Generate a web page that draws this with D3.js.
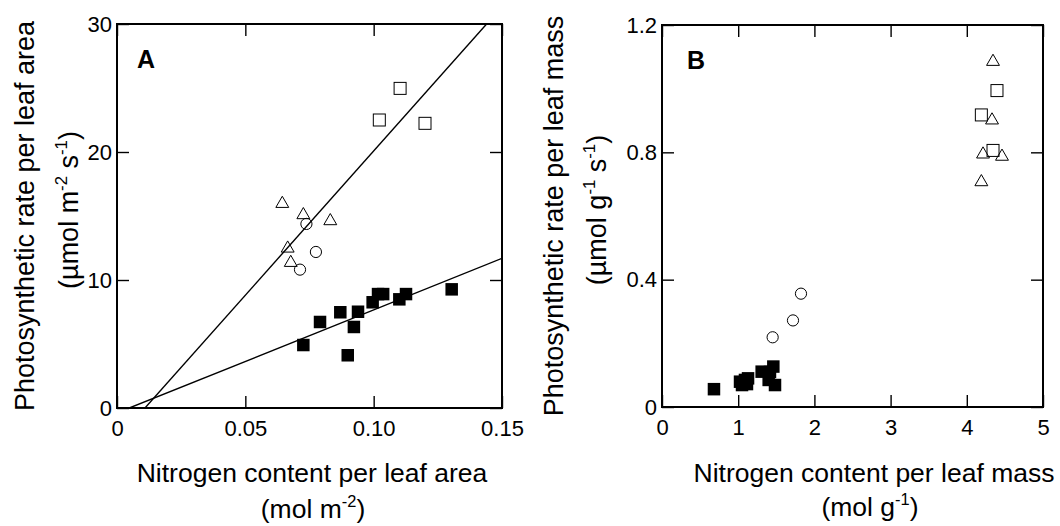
<!DOCTYPE html>
<html>
<head>
<meta charset="utf-8">
<script src="https://cdn.jsdelivr.net/npm/d3@7"></script>
<style>
  body { margin: 0; background: #fff; }
  svg { display: block; font-family: "Liberation Sans", Arial, Helvetica, sans-serif; }
  .tick text { font-size: 22px; fill: #000; }
  .tick line { stroke: #000; stroke-width: 1.4px; }
</style>
</head>
<body>
<svg id="chart" width="1060" height="526"></svg>
<script>
// panel A: area based values (x = mol m-2, y = umol m-2 s-1)
var aOpenSquares = [[0.1022, 22.5], [0.1103, 24.97], [0.1200, 22.24]];
var aTriangles = [[0.0644, 16.04], [0.0726, 15.16], [0.0831, 14.69], [0.0665, 12.55], [0.0677, 11.43]];
var aCircles = [[0.0738, 14.38], [0.0775, 12.19], [0.0713, 10.81]];
var aFilled = [
  [0.0726, 4.92], [0.0791, 6.72], [0.0870, 7.48], [0.0939, 7.52], [0.0923, 6.33], [0.0899, 4.12],
  [0.0996, 8.26], [0.1017, 8.9], [0.1037, 8.9], [0.1100, 8.49], [0.1126, 8.9], [0.1304, 9.27]
];
// fitted lines, two end points each
var aUpperFit = [[0.0109, 0], [0.1440, 30]];
var aLowerFit = [[0.0048, 0], [0.15, 11.69]];

// panel B: mass based values (x = mol g-1, y = umol g-1 s-1)
var bOpenSquares = [[4.396, 0.994], [4.191, 0.9175], [4.344, 0.806]];
var bTriangles = [[4.344, 1.088], [4.331, 0.904], [4.213, 0.797], [4.462, 0.790], [4.191, 0.710]];
var bCircles = [[1.824, 0.356], [1.719, 0.272], [1.452, 0.219]];
var bFilled = [
  [0.682, 0.056], [1.024, 0.0795], [1.089, 0.085], [1.129, 0.090], [1.05, 0.069], [1.115, 0.072],
  [1.308, 0.111], [1.417, 0.110], [1.461, 0.127], [1.483, 0.069], [1.40, 0.085]
];

var aXTicks = [0, 0.05, 0.10, 0.15];
var aXLabels = ['0', '0.05', '0.10', '0.15'];
var aYTicks = [0, 10, 20, 30];
var bXTicks = [0, 1, 2, 3, 4, 5];
var bYTicks = [0, 0.4, 0.8, 1.2];
var bYLabels = ['0', '0.4', '0.8', '1.2'];

var svg = d3.select('#chart');

var drawPanel = function(opt) {
  var x = d3.scaleLinear().domain(opt.xDomain).range([opt.left, opt.right]);
  var y = d3.scaleLinear().domain(opt.yDomain).range([opt.bottom, opt.top]);
  var g = svg.append('g');

  var fmtX = function(d, i) { return opt.xLabels ? opt.xLabels[i] : String(d); };
  var fmtY = function(d, i) { return opt.yLabels ? opt.yLabels[i] : String(d); };

  // axes with inward ticks, mirrored on top / right
  g.append('g').attr('transform', 'translate(0,' + opt.bottom + ')')
    .call(d3.axisBottom(x).tickValues(opt.xTicks).tickFormat(fmtX).tickSizeInner(-12).tickSizeOuter(0).tickPadding(12));
  g.append('g').attr('transform', 'translate(0,' + opt.top + ')')
    .call(d3.axisTop(x).tickValues(opt.xTicks).tickFormat('').tickSizeInner(-12).tickSizeOuter(0));
  g.append('g').attr('transform', 'translate(' + opt.left + ',0)')
    .call(d3.axisLeft(y).tickValues(opt.yTicks).tickFormat(fmtY).tickSizeInner(-12).tickSizeOuter(0).tickPadding(5));
  g.append('g').attr('transform', 'translate(' + opt.right + ',0)')
    .call(d3.axisRight(y).tickValues(opt.yTicks).tickFormat('').tickSizeInner(-12).tickSizeOuter(0));
  g.selectAll('.domain').remove();

  g.append('rect')
    .attr('x', opt.left).attr('y', opt.top)
    .attr('width', opt.right - opt.left).attr('height', opt.bottom - opt.top)
    .attr('fill', 'none').attr('stroke', '#000').attr('stroke-width', 2);

  // clip for fit lines
  var clipId = 'clip' + opt.name;
  svg.append('clipPath').attr('id', clipId).append('rect')
    .attr('x', opt.left).attr('y', opt.top)
    .attr('width', opt.right - opt.left).attr('height', opt.bottom - opt.top);

  var line = d3.line().x(function(d) { return x(d[0]); }).y(function(d) { return y(d[1]); });
  (opt.fits || []).forEach(function(f) {
    g.append('path').datum(f).attr('d', line)
      .attr('clip-path', 'url(#' + clipId + ')')
      .attr('fill', 'none').attr('stroke', '#000').attr('stroke-width', 1.4);
  });

  var s = 12;
  g.selectAll('.osq').data(opt.openSquares).enter().append('rect')
    .attr('x', function(d) { return x(d[0]) - s / 2; })
    .attr('y', function(d) { return y(d[1]) - s / 2; })
    .attr('width', s).attr('height', s)
    .attr('fill', 'none').attr('stroke', '#000').attr('stroke-width', 1);

  var tri = d3.symbol().type(d3.symbolTriangle).size(72);
  g.selectAll('.tri').data(opt.triangles).enter().append('path')
    .attr('d', tri)
    .attr('transform', function(d) { return 'translate(' + x(d[0]) + ',' + (y(d[1]) + 1) + ')'; })
    .attr('fill', 'none').attr('stroke', '#000').attr('stroke-width', 1);

  g.selectAll('.circ').data(opt.circles).enter().append('circle')
    .attr('cx', function(d) { return x(d[0]); })
    .attr('cy', function(d) { return y(d[1]); })
    .attr('r', 5.6)
    .attr('fill', 'none').attr('stroke', '#000').attr('stroke-width', 1);

  var fs = 12.5;
  g.selectAll('.fsq').data(opt.filled).enter().append('rect')
    .attr('x', function(d) { return x(d[0]) - fs / 2; })
    .attr('y', function(d) { return y(d[1]) - fs / 2; })
    .attr('width', fs).attr('height', fs)
    .attr('fill', '#000');

  g.append('text').attr('x', opt.left + opt.tagDx).attr('y', opt.top + 44)
    .attr('font-size', 25).attr('font-weight', 'bold').text(opt.name);
};

drawPanel({
  name: 'A', left: 117, right: 502, top: 24, bottom: 408, tagDx: 20,
  xDomain: [0, 0.15], yDomain: [0, 30],
  xTicks: aXTicks, xLabels: aXLabels, yTicks: aYTicks,
  openSquares: aOpenSquares, triangles: aTriangles, circles: aCircles, filled: aFilled,
  fits: [aUpperFit, aLowerFit]
});

drawPanel({
  name: 'B', left: 662, right: 1043, top: 25, bottom: 407, tagDx: 25,
  xDomain: [0, 5], yDomain: [0, 1.2],
  xTicks: bXTicks, yTicks: bYTicks, yLabels: bYLabels,
  openSquares: bOpenSquares, triangles: bTriangles, circles: bCircles, filled: bFilled,
  fits: []
});

// axis titles
var addTitle = function(xPos, yPos, rotate, size, parts) {
  var t = svg.append('text')
    .attr('text-anchor', 'middle')
    .attr('font-size', size)
    .attr('transform', 'translate(' + xPos + ',' + yPos + ')' + (rotate ? ' rotate(-90)' : ''));
  parts.forEach(function(p) {
    var ts = t.append('tspan').text(p.t);
    if (p.sup) {
      ts.attr('font-size', size * 0.62).attr('dy', -11);
    } else if (p.after) {
      ts.attr('dy', 11);
    }
  });
};

addTitle(312, 482, false, 26.5, [{t: 'Nitrogen content per leaf area'}]);
addTitle(313, 518, false, 26.5, [{t: '(mol m'}, {t: '-2', sup: true}, {t: ')', after: true}]);
addTitle(874, 482, false, 26.5, [{t: 'Nitrogen content per leaf mass'}]);
addTitle(870, 516, false, 26.5, [{t: '(mol g'}, {t: '-1', sup: true}, {t: ')', after: true}]);

addTitle(34, 216, true, 27, [{t: 'Photosynthetic rate per leaf area'}]);
addTitle(78, 210, true, 27, [{t: '(\u00b5mol m'}, {t: '-2', sup: true}, {t: ' s', after: true}, {t: '-1', sup: true}, {t: ')', after: true}]);
addTitle(563, 216, true, 27, [{t: 'Photosynthetic rate per leaf mass'}]);
addTitle(606, 210, true, 27, [{t: '(\u00b5mol g'}, {t: '-1', sup: true}, {t: ' s', after: true}, {t: '-1', sup: true}, {t: ')', after: true}]);
</script>
</body>
</html>
